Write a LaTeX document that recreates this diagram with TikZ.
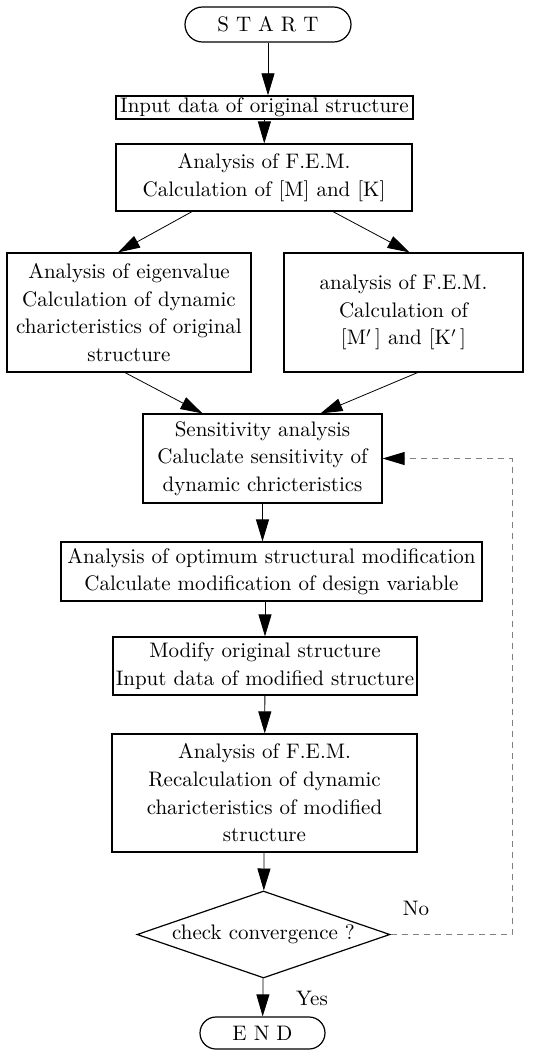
\documentclass[tikz,border=0pt]{standalone}
\usepackage{tikz}
\usetikzlibrary{arrows.meta,shapes.geometric,shapes.misc,positioning}

\tikzset{
  procbox/.style={draw, line width=0.6pt, rectangle, align=center, inner sep=1pt,
    font=\fontsize{10.5pt}{13.85pt}\selectfont},
  termbox/.style={procbox, rounded rectangle},
  decbox/.style={draw, line width=0.6pt, diamond, aspect=2.9, inner sep=0pt,
    font=\fontsize{10.5pt}{13.85pt}\selectfont},
  flowarrow/.style={thin, -{Triangle[width=6.5pt,length=11pt]}},
  loopline/.style={thin, gray, dash pattern=on 3pt off 2.5pt,
    -{Triangle[width=6.5pt,length=11pt,black]}}
}

\begin{document}
\begin{tikzpicture}[x=0.5pt, y=-0.5pt]
  \useasboundingbox (0,0) rectangle (532,1051);
  \node[termbox, minimum width=85pt, minimum height=17.5pt] (start) at (268,24.5) {S T A R T};
  \node[procbox, minimum width=148.5pt, minimum height=11pt] (input) at (264.5,107.5) {Input data of original structure};
  \node[procbox, minimum width=148pt, minimum height=33.5pt] (fem) at (264,177.5) {Analysis of F.E.M.\\Calculation of [M] and [K]};
  \node[procbox, minimum width=122pt, minimum height=59.5pt] (eig) at (129,312.5) {Analysis of eigenvalue\\Calculation of dynamic\\charicteristics of original\\structure};
  \node[procbox, minimum width=119.5pt, minimum height=59.5pt] (femp) at (403.5,312.5) {analysis of F.E.M.\\Calculation of\\{[}M$'$\,] and [K$'$\,]};
  \node[procbox, minimum width=119.5pt, minimum height=44.5pt] (sens) at (262.5,458.5) {Sensitivity analysis\\Caluclate sensitivity of\\dynamic chricteristics};
  \node[procbox, minimum width=210.5pt, minimum height=29.5pt] (opt) at (271.5,571.5) {Analysis of optimum structural modification\\Calculate modification of design variable};
  \node[procbox, minimum width=152pt, minimum height=29pt] (modify) at (265,666) {Modify original structure\\Input data of modified structure};
  \node[procbox, minimum width=152.5pt, minimum height=59pt] (recalc) at (264.5,793) {Analysis of F.E.M.\\Recalculation of dynamic\\charicteristics of modified\\structure};
  \node[decbox, minimum width=126.5pt, minimum height=43.5pt] (check) at (263.5,934.5) {check convergence ?};
  \node[termbox, minimum width=64.5pt, minimum height=16pt] (end) at (262.5,1033) {E N D};
  \node[font=\fontsize{10.5pt}{13.85pt}\selectfont] (no) at (416,908) {No};
  \node[font=\fontsize{10.5pt}{13.85pt}\selectfont] (yes) at (312,998) {Yes};
  \coordinate (loopr) at (512,458.5);

  \draw[flowarrow] (start.south) -- (start.south |- input.north);
  \draw[flowarrow] (input) -- (fem);
  \draw[flowarrow] ([xshift=-36pt]fem.south) -- ([xshift=-5.5pt]eig.north);
  \draw[flowarrow] ([xshift=34.5pt]fem.south) -- ([xshift=3pt]femp.north);
  \draw[flowarrow] ([xshift=-2pt]eig.south) -- ([xshift=-30pt]sens.north);
  \draw[flowarrow] ([xshift=7pt]femp.south) -- ([xshift=29pt]sens.north);
  \draw[flowarrow] (sens) -- (sens |- opt.north);
  \draw[flowarrow] (opt.south -| modify) -- (modify);
  \draw[flowarrow] (modify) -- (recalc);
  \draw[flowarrow] (recalc) -- (check);
  \draw[flowarrow] (check) -- (end);
  \draw[loopline] (check.east) -| (loopr) -- (sens.east);
\end{tikzpicture}
\end{document}
